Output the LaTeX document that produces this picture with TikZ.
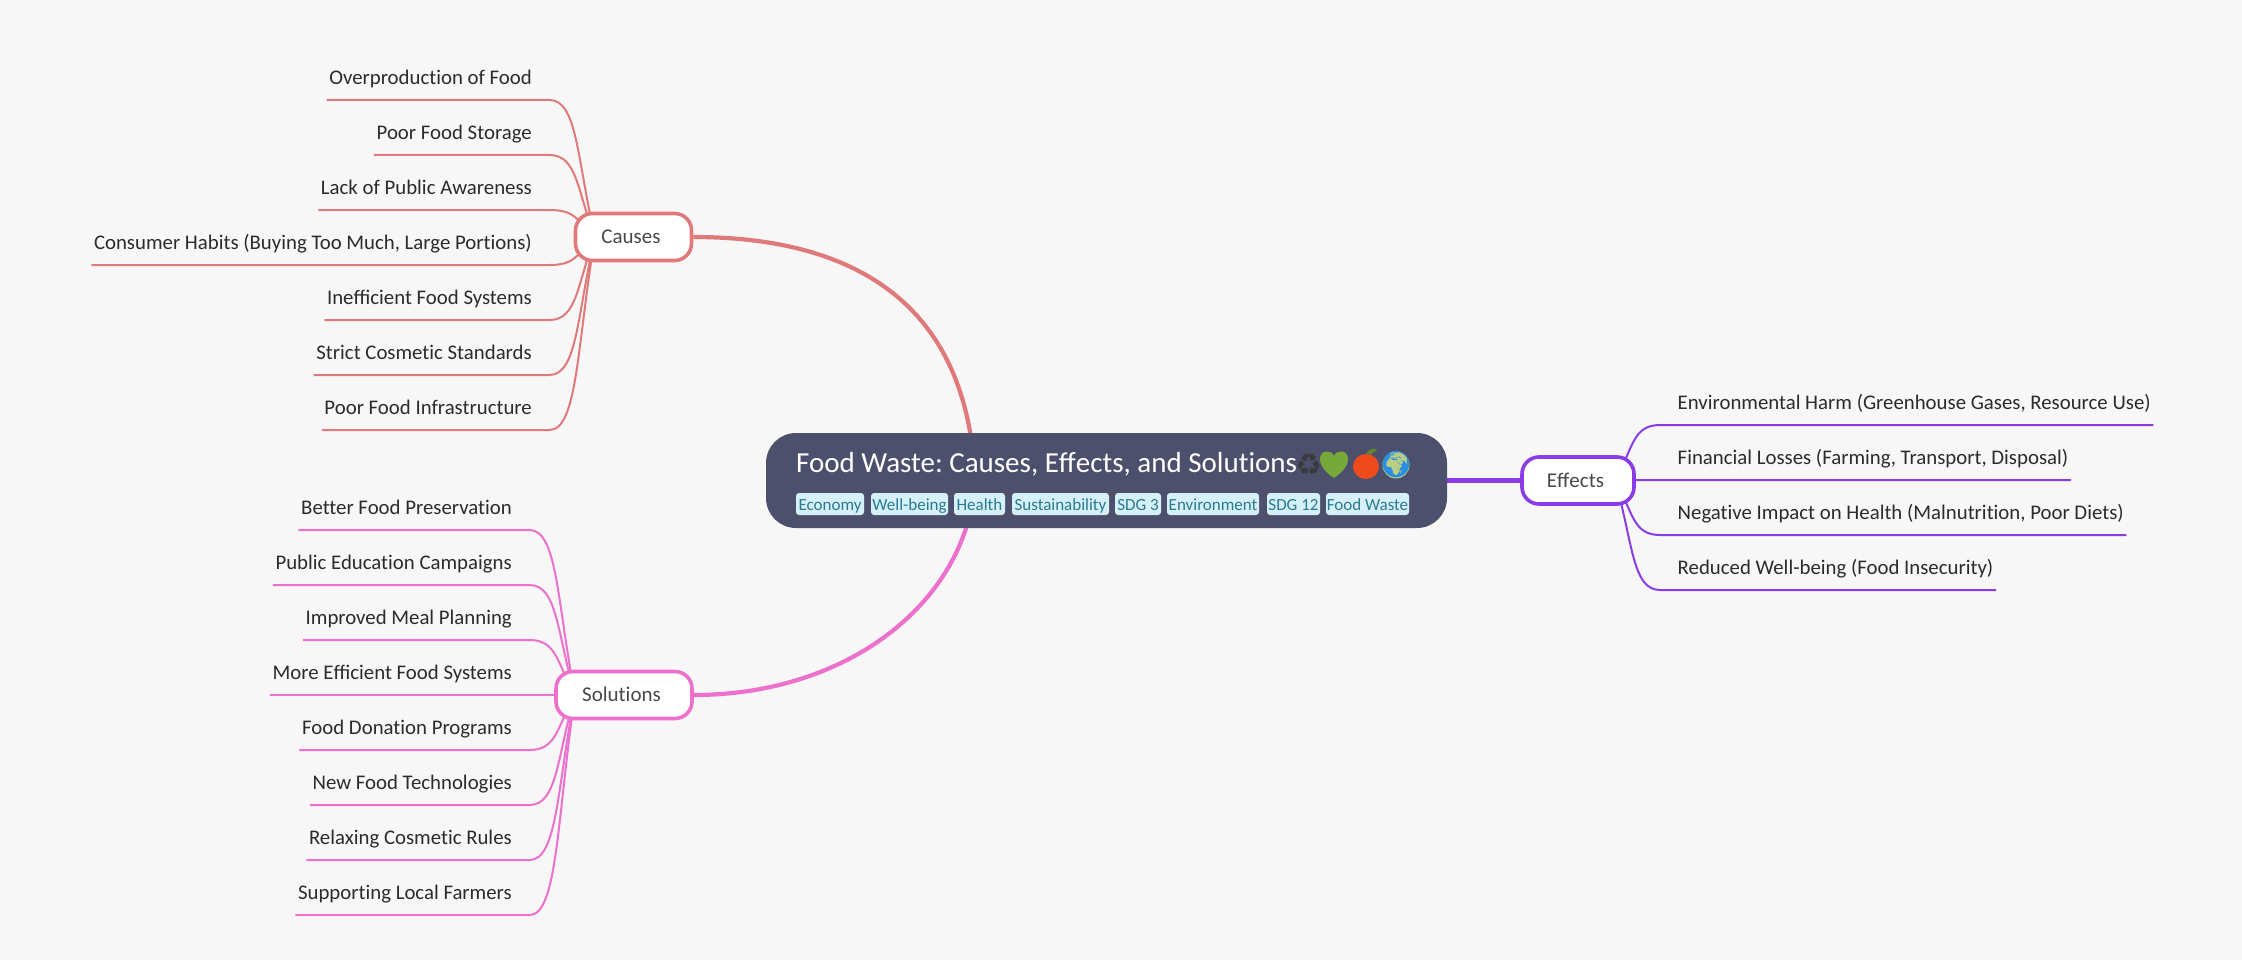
\documentclass[tikz,border=0pt]{standalone}
\usepackage{fontspec}
\setmainfont{Carlito}[Ligatures=CommonOff]
\newfontface\ligface{Carlito}
\newfontfamily\emojifont{Noto Emoji}
\newfontfamily\symfont{DejaVu Sans}
\usetikzlibrary{calc}
\pgfdeclarelayer{bg}
\pgfsetlayers{bg,main}
\definecolor{pagebg}{HTML}{F7F7F7}
\definecolor{mainfill}{HTML}{4D506C}
\definecolor{redc}{HTML}{E07A7A}
\definecolor{pinkc}{HTML}{EC70CC}
\definecolor{purplec}{HTML}{8A3DE6}
\definecolor{leaftext}{HTML}{2B2B2B}
\definecolor{hubtext}{HTML}{484848}
\definecolor{tagfill}{HTML}{D5F0F8}
\definecolor{tagtext}{HTML}{2A7A90}
\definecolor{emogreen}{HTML}{77A83A}
\definecolor{emored}{HTML}{EE4A1C}
\definecolor{emoblue}{HTML}{2A8FE0}
\definecolor{emoland}{HTML}{B9CF86}
\definecolor{emodark}{HTML}{3A3A3E}
\tikzset{
  x=1pt,y=-1pt,
  hubbox/.style={draw=#1,line width=3.6pt,fill=white,rounded corners=17pt,minimum height=47pt,inner sep=0pt,text=hubtext,font=\fontsize{21}{24}\selectfont,anchor=center},
  leaf/.style={text=leaftext,font=\fontsize{20.8}{24}\selectfont,text height=14pt,text depth=5pt,inner ysep=10pt,inner xsep=2.5pt},
  leafL/.style={leaf,anchor=south east},
  leafR/.style={leaf,anchor=south west},
  wire/.style={draw=#1,line width=2pt},
  trunk/.style={draw=#1,line width=4.2pt},
  tag/.style={fill=tagfill,text=tagtext,rounded corners=3pt,minimum height=22pt,text height=13pt,text depth=0pt,inner sep=0pt,font=\fontsize{17}{18}\selectfont,anchor=center},
  emo/.style={font=\emojifont\fontsize{24}{28}\selectfont,inner sep=0pt,anchor=center},
}
\newcommand\hubtxt[1]{\hspace*{-5pt}\raisebox{1.5pt}{#1}}
\newcommand\wireL[2]{\draw[wire=#2] let \p1=($(#1.south east)+(15,0)$), \p2=(hub) in
  (#1.south west) -- (\p1) .. controls +(28pt,0pt) and (\x2-18pt,{\y1+0.44*(\y2-\y1)}) .. (hub);}
\newcommand\wireR[2]{\draw[wire=#2] let \p1=($(#1.south west)+(-15,0)$), \p2=(hub) in
  (#1.south east) -- (\p1) .. controls +(-28pt,0pt) and (\x2+18pt,{\y1+0.44*(\y2-\y1)}) .. (hub);}
\begin{document}
\frenchspacing
\begin{tikzpicture}
\begin{pgfonlayer}{bg}
\fill[pagebg] (0,0) rectangle (2242,960);
\end{pgfonlayer}
\useasboundingbox (0,0) rectangle (2242,960);

\node[fill=mainfill,rounded corners=30pt,minimum width=681pt,minimum height=95pt,inner sep=0pt] (root) at (1106.5,480.5) {};
\node[text=white,font=\fontsize{29}{32}\selectfont,anchor=base west,inner sep=0pt] (title) at (796,472) {Food Waste: Causes, E{\ligface ff}ects, and Solutions};
% emoji: colour bodies under the glyphs
\fill[emogreen] (1334,478) .. controls (1322,470) and (1320,463) .. (1320,459) .. controls (1320,450) and (1331,449) .. (1334,456) .. controls (1337,449) and (1348,450) .. (1348,459) .. controls (1348,463) and (1346,470) .. (1334,478) -- cycle;
\fill[emored] (1366,466.5) ellipse [x radius=13,y radius=12.5];
\fill[emogreen!80!black] (1366,454) .. controls (1368,449) and (1373,448) .. (1377,449) .. controls (1375,453) and (1370,455) .. (1366,454) -- cycle;
\fill[emoland] (1396,465) circle [radius=13.5];
\node[font=\symfont\fontsize{30}{32}\selectfont,inner sep=0pt,text=emodark] (e1) at (1309,465) {♻};
\node[emo,text=emogreen] (e2) at (1334,465) {💚};
\node[emo,text=emored,font=\emojifont\fontsize{23}{28}\selectfont] (e3) at (1366,467) {🍎};
\node[emo,text=emoblue,font=\emojifont\fontsize{26}{28}\selectfont] (e4) at (1396,465) {🌍};

\node[tag,minimum width=68pt] (t1) at (830,504) {Economy};
\node[tag,minimum width=77pt] (t2) at (909.5,504) {Well-being};
\node[tag,minimum width=51pt] (t3) at (979.5,504) {Health};
\node[tag,minimum width=97pt] (t4) at (1060.5,504) {Sustainability};
\node[tag,minimum width=46pt] (t5) at (1138,504) {SDG 3};
\node[tag,minimum width=92pt] (t6) at (1213,504) {Environment};
\node[tag,minimum width=53pt] (t7) at (1293.5,504) {SDG 12};
\node[tag,minimum width=83pt] (t8) at (1367.5,504) {Food Waste};

\node[hubbox=redc,minimum width=116pt] (causes) at (633.5,237) {\hubtxt{Causes}};
\node[hubbox=pinkc,minimum width=136pt] (solutions) at (624,695) {\hubtxt{Solutions}};
\node[hubbox=purplec,minimum width=112pt] (effects) at (1578,480.5) {\hubtxt{E{\ligface ff}ects}};
\coordinate (rootanchor) at (975,480.5);

\begin{pgfonlayer}{bg}
\draw[trunk=redc] (causes.east) .. controls (850,237) and (968,300) .. (rootanchor);
\draw[trunk=pinkc] (solutions.east) .. controls (850,695) and (968,600) .. (rootanchor);
\draw[trunk=purplec] (root.east) -- (effects.west);
\end{pgfonlayer}

% Causes
\node[leafL] (c1) at (534.5,100) {Overproduction of Food};
\node[leafL] (c2) at (534.5,155) {Poor Food Storage};
\node[leafL] (c3) at (534.5,210) {Lack of Public Awareness};
\node[leafL] (c4) at (534.5,265) {Consumer Habits (Buying Too Much, Large Portions)};
\node[leafL] (c5) at (534.5,320) {Ine{\ligface ffi}cient Food Systems};
\node[leafL] (c6) at (534.5,375) {Strict Cosmetic Standards};
\node[leafL] (c7) at (534.5,430) {Poor Food Infrastructure};
\coordinate (hub) at (595,237);
\begin{pgfonlayer}{bg}
\foreach \lf in {c1,c2,c3,c4,c5,c6,c7} {\wireL{\lf}{redc}}
\end{pgfonlayer}

% Solutions
\node[leafL] (s1) at (514.5,530) {Better Food Preservation};
\node[leafL] (s2) at (514.5,585) {Public Education Campaigns};
\node[leafL] (s3) at (514.5,640) {Improved Meal Planning};
\node[leafL] (s4) at (514.5,695) {More E{\ligface ffi}cient Food Systems};
\node[leafL] (s5) at (514.5,750) {Food Donation Programs};
\node[leafL] (s6) at (514.5,805) {New Food Technologies};
\node[leafL] (s7) at (514.5,860) {Relaxing Cosmetic Rules};
\node[leafL] (s8) at (514.5,915) {Supporting Local Farmers};
\coordinate (hub) at (575,695);
\begin{pgfonlayer}{bg}
\foreach \lf in {s1,s2,s3,s4,s5,s6,s7,s8} {\wireL{\lf}{pinkc}}
\end{pgfonlayer}

% Effects
\node[leafR] (f1) at (1675,425) {Environmental Harm (Greenhouse Gases, Resource Use)};
\node[leafR] (f2) at (1675,480) {Financial Losses (Farming, Transport, Disposal)};
\node[leafR] (f3) at (1675,535) {Negative Impact on Health (Malnutrition, Poor Diets)};
\node[leafR] (f4) at (1675,590) {Reduced Well-being (Food Insecurity)};
\coordinate (hub) at (1615,480.5);
\begin{pgfonlayer}{bg}
\foreach \lf in {f1,f2,f3,f4} {\wireR{\lf}{purplec}}
\end{pgfonlayer}
\end{tikzpicture}
\end{document}
